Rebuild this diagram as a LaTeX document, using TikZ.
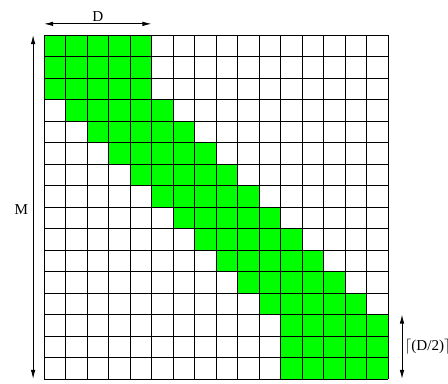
\documentclass[tikz,border=0pt]{standalone}
\usepackage{fontspec}
\setmainfont{Liberation Serif}
\usetikzlibrary{arrows.meta}
\definecolor{band}{RGB}{0,255,0}

\begin{document}
\begin{tikzpicture}[x=0.5cm,y=0.5cm,
  cell/.style={fill=band},
  gridln/.style={line width=0.5pt,step=0.5cm},
  dim/.style={{Latex[length=6pt,width=3pt]}-{Latex[length=6pt,width=3pt]},
              line width=0.6pt},
  lb/.style={font=\normalsize,inner sep=1.5pt}
]
\useasboundingbox (-2.05,-0.23) rectangle (18.79,17.63);

%% 16 x 16 cells, band of width 5, rows counted from the top

% band cells
\foreach \r in {0,...,15}{
  \pgfmathtruncatemacro{\cs}{max(0,min(\r-2,11))}
  \pgfmathtruncatemacro{\ce}{\cs+4}
  \foreach \c in {\cs,...,\ce}
    \fill[cell] (\c,15-\r) rectangle ++(1,1);
}

% grid
\draw[gridln] (0,0) grid (16,16);

% width D
\coordinate (Dl) at (0,16.52);
\coordinate (Dr) at (5,16.52);
\draw[dim] (Dl) -- (Dr) node[midway,above,lb]{D};

% height M
\coordinate (Mt) at (-0.51,16);
\coordinate (Mb) at (-0.51,0);
\draw[dim] (Mt) -- (Mb) node[midway,left,lb,inner sep=3pt,yshift=-2pt]{M};

% last rows
\coordinate (Ct) at (16.65,3);
\coordinate (Cb) at (16.65,0);
\draw[dim] (Ct) -- (Cb)
      node[midway,right,lb]{$\lceil$(D/2)$\rceil$};

\end{tikzpicture}
\end{document}
